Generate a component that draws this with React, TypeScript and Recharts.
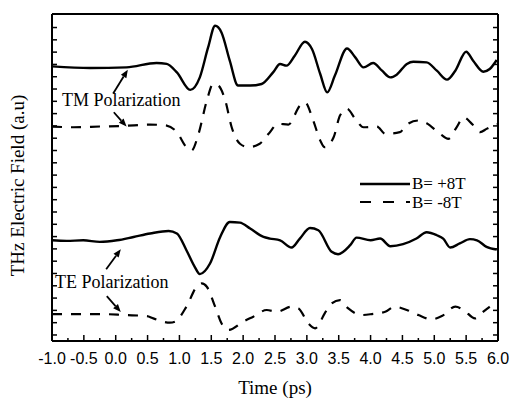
import React from 'react';
import { LineChart, Line, XAxis, YAxis, ReferenceLine } from 'recharts';

const serif = "'Liberation Serif', 'Times New Roman', Times, serif";
const sans = "'Liberation Sans', Arial, sans-serif";

// time axis ticks (ps), labels only on the half-ps ones
const xTicks = [-1, -0.75, -0.5, -0.25, 0, 0.25, 0.5, 0.75, 1, 1.25, 1.5, 1.75, 2, 2.25, 2.5, 2.75, 3, 3.25, 3.5, 3.75, 4, 4.25, 4.5, 4.75, 5, 5.25, 5.5, 5.75, 6];
const yTicks = [0, 1, 2, 3, 4, 5, 6, 7, 8, 9, 10, 11, 12, 13, 14, 15, 16, 17, 18, 19, 20, 21, 22, 23, 24, 25];

// TM polarization, B = +8T (solid)
const tmPlusTime = [-1.0, -0.4, 0.17, 0.64, 0.8, 0.96, 1.17, 1.32, 1.45, 1.56, 1.66, 1.79, 1.92, 2.11, 2.29, 2.47, 2.58, 2.68, 2.81, 2.97, 3.08, 3.21, 3.32, 3.44, 3.63, 3.76, 3.89, 4.04, 4.18, 4.31, 4.41, 4.57, 4.67, 4.88, 5.04, 5.2, 5.33, 5.5, 5.61, 5.77, 5.87, 5.98];
const tmPlusField = [21.84, 21.71, 21.76, 22.12, 22.04, 21.35, 19.93, 20.95, 23.38, 25.14, 24.6, 22.3, 20.28, 20.28, 20.41, 21.35, 22.04, 21.9, 22.71, 23.84, 23.25, 21.22, 19.73, 21.09, 23.3, 22.57, 21.76, 22.12, 21.49, 20.95, 21.17, 22.04, 22.22, 22.17, 21.49, 20.76, 21.49, 23.03, 22.3, 21.41, 21.63, 22.36];

// TM polarization, B = -8T (dashed)
const tmMinusTime = [-1.0, -0.66, -0.25, 0.12, 0.54, 0.8, 0.96, 1.11, 1.19, 1.3, 1.43, 1.53, 1.61, 1.72, 1.82, 1.95, 2.08, 2.26, 2.4, 2.55, 2.71, 2.89, 2.97, 3.1, 3.21, 3.28, 3.42, 3.52, 3.63, 3.76, 3.89, 4.1, 4.23, 4.46, 4.57, 4.75, 4.88, 5.09, 5.22, 5.35, 5.46, 5.59, 5.72, 5.82, 5.98];
const tmMinusField = [16.95, 16.89, 16.95, 17.0, 17.11, 17.03, 16.49, 15.27, 15.0, 16.36, 19.06, 20.41, 20.28, 19.06, 16.89, 15.55, 15.27, 15.55, 16.36, 17.17, 17.11, 18.65, 18.92, 17.44, 15.82, 15.27, 16.08, 17.84, 18.39, 17.57, 16.89, 16.95, 16.36, 16.49, 17.11, 17.44, 17.22, 16.36, 15.95, 16.89, 17.7, 17.17, 16.49, 16.76, 17.17];

// TE polarization, B = +8T (solid)
const tePlusTime = [-1.0, -0.77, -0.51, -0.25, 0.02, 0.28, 0.54, 0.83, 0.96, 1.11, 1.24, 1.32, 1.48, 1.64, 1.79, 1.95, 2.11, 2.32, 2.42, 2.58, 2.76, 2.89, 3.05, 3.18, 3.39, 3.49, 3.68, 3.78, 4.0, 4.15, 4.31, 4.51, 4.72, 4.88, 5.04, 5.14, 5.25, 5.4, 5.56, 5.67, 5.82, 5.98];
const tePlusField = [7.7, 7.65, 7.7, 7.57, 7.7, 7.97, 8.25, 8.46, 8.25, 6.89, 5.54, 4.95, 5.81, 7.97, 9.19, 9.14, 8.65, 7.97, 7.84, 7.7, 7.11, 7.84, 8.7, 8.52, 6.76, 6.57, 7.3, 7.92, 7.7, 7.84, 7.22, 7.38, 7.84, 8.35, 8.11, 7.84, 7.11, 7.44, 7.79, 7.7, 7.16, 6.95];

// TE polarization, B = -8T (dashed)
const teMinusTime = [-1.0, -0.56, -0.25, 0.15, 0.49, 0.59, 0.85, 0.93, 1.11, 1.27, 1.35, 1.43, 1.56, 1.66, 1.77, 2.0, 2.16, 2.37, 2.53, 2.76, 2.87, 3.02, 3.13, 3.28, 3.36, 3.52, 3.65, 3.86, 4.02, 4.23, 4.38, 4.57, 4.75, 4.96, 5.12, 5.33, 5.46, 5.64, 5.77, 5.87];
const teMinusField = [1.7, 1.7, 1.7, 1.62, 1.54, 1.35, 1.0, 1.08, 2.3, 3.92, 4.19, 3.92, 2.3, 0.95, 0.41, 1.08, 1.49, 2.03, 1.89, 2.3, 2.16, 0.95, 0.54, 1.76, 2.43, 2.84, 2.16, 1.62, 1.7, 1.89, 2.3, 2.03, 1.62, 1.27, 1.54, 2.3, 2.03, 1.35, 1.89, 2.3];

// annotation arrows: tail -> head, in (time, field) units
const arrowTail = [[-0.04, 19.63], [-0.03, 18.11], [-0.15, 5.35], [-0.14, 3.16]];
const arrowHead = [[0.19, 21.57], [0.17, 16.95], [0.08, 6.97], [0.08, 1.86]];

const zip = (t: number[], v: number[]) => t.map((x, i) => ({ t: x, v: v[i] }));

const isMajor = (v: number) => Math.abs(v * 2 - Math.round(v * 2)) < 1e-6;

const BottomTick = ({ x, y, payload }: any) => {
  const major = isMajor(payload.value);
  return (
    <g>
      <line x1={x} x2={x} y1={y} y2={y - (major ? 6 : 3)} stroke="#000" strokeWidth={1.5} />
      {major && (
        <text x={x} y={y + 23} textAnchor="middle" style={{ fontFamily: sans, fontSize: 16 }} fill="#000">
          {payload.value.toFixed(1)}
        </text>
      )}
    </g>
  );
};

const TopTick = ({ x, y, payload }: any) => (
  <line x1={x} x2={x} y1={y} y2={y + (isMajor(payload.value) ? 6 : 3)} stroke="#000" strokeWidth={1.5} />
);

const LeftTick = ({ x, y }: any) => <line x1={x} x2={x + 5} y1={y} y2={y} stroke="#000" strokeWidth={1.5} />;
const RightTick = ({ x, y }: any) => <line x1={x} x2={x - 5} y1={y} y2={y} stroke="#000" strokeWidth={1.5} />;

const XLabel = ({ viewBox }: any) => {
  const vb = viewBox || { x: 52, y: 341, width: 446, height: 60 };
  return (
    <text x={vb.x + vb.width / 2} y={vb.y + 53} textAnchor="middle" style={{ fontFamily: serif, fontSize: 19 }} fill="#000">
      Time (ps)
    </text>
  );
};

const YLabel = ({ viewBox }: any) => {
  const vb = viewBox || { x: 0, y: 14, width: 52, height: 327 };
  const cx = vb.x + 24;
  const cy = vb.y + vb.height / 2 + 8;
  return (
    <text x={cx} y={cy} transform={`rotate(-90 ${cx} ${cy})`} textAnchor="middle" style={{ fontFamily: serif, fontSize: 19 }} fill="#000">
      THz Electric Field (a.u)
    </text>
  );
};

const Arrow = (p: any) => {
  const { x1, y1, x2, y2 } = p;
  const ang = Math.atan2(y2 - y1, x2 - x1);
  const L = 8, W = 3.2;
  const bx = x2 - L * Math.cos(ang);
  const by = y2 - L * Math.sin(ang);
  const pts = `${x2},${y2} ${bx - W * Math.sin(ang)},${by + W * Math.cos(ang)} ${bx + W * Math.sin(ang)},${by - W * Math.cos(ang)}`;
  return (
    <g>
      <line x1={x1} y1={y1} x2={bx} y2={by} stroke="#000" strokeWidth={1.8} />
      <polygon points={pts} fill="#000" />
    </g>
  );
};

const DASH = '10 9';
const serifText = { fontFamily: serif, fontSize: 18 };

export default function App() {
  return (
    <div style={{ position: 'absolute', left: 0, top: 0, width: 510, height: 401, background: '#fff' }}>
      <LineChart width={510} height={401} margin={{ top: 0, right: 0, bottom: 0, left: 0 }}>
        <XAxis
          xAxisId="b"
          type="number"
          dataKey="t"
          domain={[-1, 6]}
          ticks={xTicks}
          interval={0}
          height={60}
          allowDataOverflow
          tickSize={0}
          tickMargin={0}
          tickLine={false}
          tick={<BottomTick />}
          axisLine={{ stroke: '#000', strokeWidth: 2 }}
          label={<XLabel />}
        />
        <XAxis
          xAxisId="top"
          orientation="top"
          type="number"
          domain={[-1, 6]}
          ticks={xTicks}
          interval={0}
          height={14}
          allowDataOverflow
          tickSize={0}
          tickMargin={0}
          tickLine={false}
          tick={<TopTick />}
          axisLine={{ stroke: '#000', strokeWidth: 2 }}
        />
        <YAxis
          yAxisId="l"
          type="number"
          domain={[-0.49, 26.1]}
          ticks={yTicks}
          interval={0}
          width={52}
          allowDataOverflow
          tickSize={0}
          tickMargin={0}
          tickLine={false}
          tick={<LeftTick />}
          axisLine={{ stroke: '#000', strokeWidth: 2 }}
          label={<YLabel />}
        />
        <YAxis
          yAxisId="r"
          orientation="right"
          type="number"
          domain={[-0.49, 26.1]}
          ticks={yTicks}
          interval={0}
          width={12}
          allowDataOverflow
          tickSize={0}
          tickMargin={0}
          tickLine={false}
          tick={<RightTick />}
          axisLine={{ stroke: '#000', strokeWidth: 2 }}
        />
        <Line xAxisId="b" yAxisId="l" data={zip(tmPlusTime, tmPlusField)} dataKey="v" type="monotone" stroke="#000" strokeWidth={2.4} dot={false} isAnimationActive={false} />
        <Line xAxisId="b" yAxisId="l" data={zip(tmMinusTime, tmMinusField)} dataKey="v" type="monotone" stroke="#000" strokeWidth={2.2} strokeDasharray={DASH} dot={false} isAnimationActive={false} />
        <Line xAxisId="b" yAxisId="l" data={zip(tePlusTime, tePlusField)} dataKey="v" type="monotone" stroke="#000" strokeWidth={2.4} dot={false} isAnimationActive={false} />
        <Line xAxisId="b" yAxisId="l" data={zip(teMinusTime, teMinusField)} dataKey="v" type="monotone" stroke="#000" strokeWidth={2.2} strokeDasharray={DASH} dot={false} isAnimationActive={false} />
        {arrowTail.map((tail, i) => (
          <ReferenceLine
            key={i}
            xAxisId="b"
            yAxisId="l"
            segment={[{ x: tail[0], y: tail[1] }, { x: arrowHead[i][0], y: arrowHead[i][1] }]}
            shape={<Arrow />}
          />
        ))}
      </LineChart>
      <svg width={510} height={401} style={{ position: 'absolute', left: 0, top: 0, pointerEvents: 'none' }}>
        <text x={62} y={106} style={serifText} fill="#000">TM Polarization</text>
        <text x={55} y={288} style={serifText} fill="#000">TE Polarization</text>
        <line x1={360} x2={410} y1={184} y2={184} stroke="#000" strokeWidth={2.4} />
        <text x={412} y={189} style={{ fontFamily: serif, fontSize: 17 }} fill="#000">B= +8T</text>
        <line x1={360} x2={410} y1={202} y2={202} stroke="#000" strokeWidth={2.2} strokeDasharray="11 12" />
        <text x={412} y={208} style={{ fontFamily: serif, fontSize: 17 }} fill="#000">B= -8T</text>
      </svg>
    </div>
  );
}
